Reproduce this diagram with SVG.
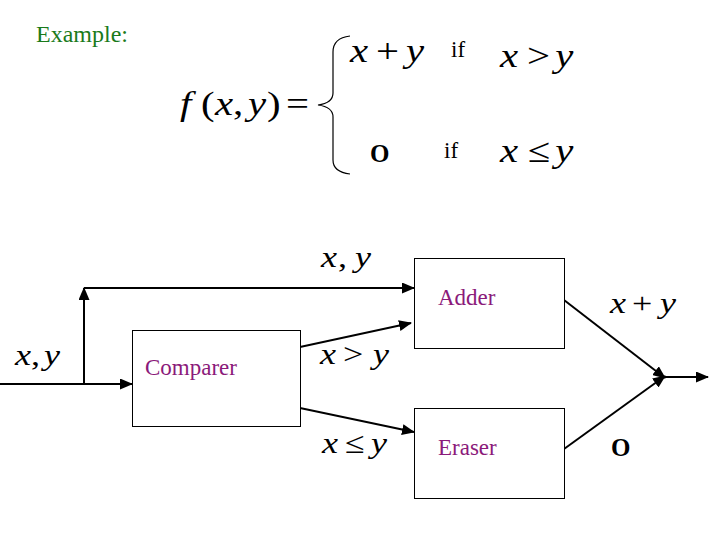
<svg xmlns="http://www.w3.org/2000/svg" width="720" height="540" viewBox="0 0 720 540">
<style>
.m{font-family:"Liberation Serif","Times New Roman",serif;font-style:italic;font-size:30px;fill:#000}
.f{font-size:34px}
.u{font-style:normal}
.r{font-family:"Liberation Serif","Times New Roman",serif;font-size:23px;fill:#000}
.z{font-family:"Liberation Serif","Times New Roman",serif;font-weight:bold;font-size:25px;fill:#000}
.lbl{font-family:"Liberation Serif","Times New Roman",serif;font-size:23px;fill:#8b1a7a}
.ex{font-family:"Liberation Serif","Times New Roman",serif;font-size:24px;fill:#1a7a1a}
.box{fill:#fff;stroke:#000;stroke-width:1}
.ln{fill:none;stroke:#000;stroke-width:2}
</style>
<defs>
<marker id="ah" viewBox="0 0 13 11" refX="12" refY="5.5" markerWidth="13" markerHeight="11" orient="auto" markerUnits="userSpaceOnUse">
<path d="M0,0 L13,5.5 L0,11 z" fill="#000"/>
</marker>
</defs>
<rect width="720" height="540" fill="#fff"/>
<text class="ex" x="36" y="42">Example:</text>
<g id="formula">
<text class="m f" transform="translate(180,115) scale(1.2,1)"><tspan x="0">f</tspan><tspan class="u" x="17.5">(</tspan><tspan x="29.2">x</tspan><tspan class="u" x="44.2">,</tspan><tspan x="56.7">y</tspan><tspan class="u" x="72.5">)</tspan><tspan class="u" x="88.3">=</tspan></text>
<path d="M350,36 Q333,38 333,52 L333,93 Q333,103 318,105 Q333,107 333,117 L333,160 Q333,172 350,174" fill="none" stroke="#000" stroke-width="1.2"/>
<text class="m f" transform="translate(350,62) scale(1.2,1)"><tspan x="0">x</tspan><tspan class="u" x="21.7">+</tspan><tspan x="46.7">y</tspan></text>
<text class="r" x="451" y="57">if</text>
<text class="m f" transform="translate(500,67) scale(1.2,1)"><tspan x="0">x</tspan><tspan class="u" x="22.5">&gt;</tspan><tspan x="46">y</tspan></text>
<text class="z" x="370" y="162">O</text>
<text class="r" x="444" y="158">if</text>
<text class="m f" transform="translate(500,162) scale(1.2,1)"><tspan x="0">x</tspan><tspan class="u" x="23.3">≤</tspan><tspan x="46">y</tspan></text>
</g>
<g id="connectors">
<line class="ln" x1="0" y1="384" x2="132" y2="384" marker-end="url(#ah)"/>
<line class="ln" x1="84" y1="384" x2="84" y2="288" marker-end="url(#ah)"/>
<line class="ln" x1="84" y1="288" x2="414" y2="288" marker-end="url(#ah)"/>
<line class="ln" x1="300" y1="347" x2="411" y2="323" marker-end="url(#ah)"/>
<line class="ln" x1="300" y1="408" x2="414" y2="432" marker-end="url(#ah)"/>
<line class="ln" x1="564" y1="300" x2="665" y2="378" marker-end="url(#ah)"/>
<line class="ln" x1="564" y1="449" x2="665" y2="376" marker-end="url(#ah)"/>
<line class="ln" x1="663" y1="377" x2="708" y2="377" marker-end="url(#ah)"/>
<text class="m" transform="translate(321,267) scale(1.2,1)"><tspan x="0">x</tspan><tspan class="u" x="14.2">,</tspan><tspan x="28.3">y</tspan></text>
<text class="m" transform="translate(15,365) scale(1.2,1)"><tspan x="0">x</tspan><tspan class="u" x="13.3">,</tspan><tspan x="24.2">y</tspan></text>
<text class="m" transform="translate(320,364) scale(1.2,1)"><tspan x="0">x</tspan><tspan class="u" x="19.2">&gt;</tspan><tspan x="44.2">y</tspan></text>
<text class="m" transform="translate(322,453) scale(1.2,1)"><tspan x="0">x</tspan><tspan class="u" x="19.2">≤</tspan><tspan x="40.8">y</tspan></text>
<text class="m" transform="translate(610,313) scale(1.2,1)"><tspan x="0">x</tspan><tspan class="u" x="18.3">+</tspan><tspan x="41.7">y</tspan></text>
<text class="z" x="611" y="456">O</text>
</g>
<g id="comparer">
<rect class="box" x="132.5" y="330.5" width="168" height="96"/>
<text class="lbl" x="145" y="375">Comparer</text>
</g>
<g id="adder">
<rect class="box" x="414.5" y="258.5" width="150" height="90"/>
<text class="lbl" x="438" y="305">Adder</text>
</g>
<g id="eraser">
<rect class="box" x="414.5" y="408.5" width="150" height="90"/>
<text class="lbl" x="438" y="455">Eraser</text>
</g>
</svg>
